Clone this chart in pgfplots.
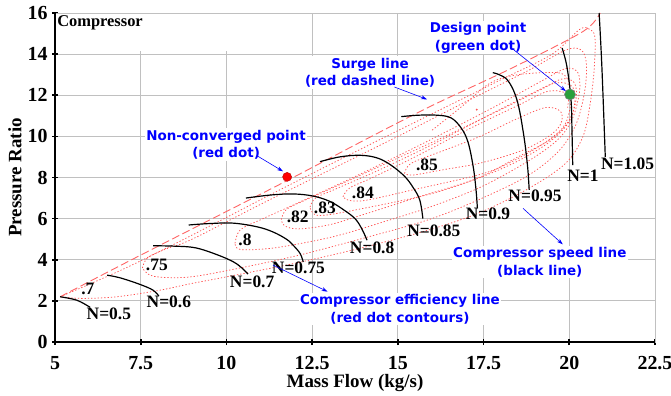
\documentclass[border=0pt]{standalone}
\usepackage{fontspec}
\setmainfont{Liberation Serif}
\newfontfamily\annfont{DejaVu Sans}
\usepackage{pgfplots}
\pgfplotsset{compat=1.18}
\usetikzlibrary{calc,arrows.meta}

\definecolor{effred}{RGB}{255,80,80}
\definecolor{surgered}{RGB}{255,100,100}
\definecolor{annblue}{RGB}{0,0,255}
\definecolor{gridgray}{RGB}{192,192,192}
\definecolor{designgreen}{RGB}{40,160,60}

\begin{document}
\begin{tikzpicture}
\begin{axis}[
  scale only axis, width=600bp, height=329bp,
  xmin=5, xmax=22.5, ymin=0, ymax=16,
  xtick={5,7.5,10,12.5,15,17.5,20,22.5},
  ytick={0,2,4,6,8,10,12,14,16},
  xticklabels={5,7.5,10,12.5,15,17.5,20,22.5},
  grid=major, grid style={gridgray, line width=0.9pt},
  axis line style={gridgray, line width=0.9pt},
  tick pos=left, tick align=center,
  major tick length=6bp,
  tick style={black, line width=1.6pt},
  /pgf/number format/assume math mode=true,
  tick label style={font=\fontsize{20}{20}\selectfont\bfseries},
  xticklabel style={yshift=-8bp},
  yticklabel style={xshift=-1bp},
  xlabel={Mass Flow (kg/s)},
  ylabel={Pressure Ratio},
  label style={font=\fontsize{19}{19}\selectfont\bfseries},
  xlabel style={yshift=2bp},
  ylabel style={yshift=-1bp},
  clip=false,
]
\coordinate (ll) at (rel axis cs:0,0);
\coordinate (ur) at (rel axis cs:1,1);
\fill[white] (axis cs:5.05,14.15) rectangle (axis cs:12.2,15.97);

% efficiency contours (red dotted)
\pgfplotsset{eff/.style={effred, line width=0.75pt, dash pattern=on 1.3pt off 2pt, smooth, tension=0.55}}
% .70
\addplot[eff] coordinates {(5.15,2.2) (7,3.55) (9,5.2) (11.5,7.35) (14,9.45) (16,11.1) (18,12.75) (19.5,14.0) (20.3,15.2) (20.6,15.2) (20.75,14.8) (20.72,13.15) (20.6,11.5) (20.4,10.0) (19.9,8.7) (18.85,7.5) (17.4,6.3) (15.9,5.45) (14,4.6) (12.06,3.85) (10.1,3.2) (9,2.85) (8,2.5) (6.8,2.2) (5.8,2.12) (5.15,2.2)};
% .75
\addplot[eff] coordinates {(7.55,3.6) (7.7,4.1) (8.2,4.5) (9,5.0) (11,6.7) (13,8.35) (15,10.0) (17,11.7) (18.8,13.2) (19.9,14.2) (20.35,14.2) (20.5,13.5) (20.45,12.2) (20.2,10.6) (19.7,9.3) (18.8,8.1) (17.4,6.95) (15.9,5.95) (14,5.05) (12.06,4.2) (10.1,3.5) (8.85,3.15) (7.86,3.2) (7.55,3.6)};
% .80
\addplot[eff] coordinates {(10.25,4.8) (10.4,5.45) (11,5.95) (12,6.7) (13.5,7.85) (15,9.05) (16.5,10.3) (18,11.6) (19.2,12.7) (19.9,13.3) (20.25,13.1) (20.3,12.2) (20.1,10.9) (19.7,9.9) (18.9,8.9) (17.5,7.6) (16,6.6) (14.5,5.8) (13.3,5.2) (12.35,4.85) (11.27,4.55) (10.4,4.5) (10.25,4.8)};
% .82
\addplot[eff] coordinates {(11.6,5.95) (11.75,6.45) (12.3,6.9) (13.5,7.8) (15,8.95) (16.5,10.1) (18,11.3) (19.2,12.3) (19.8,12.8) (20.15,12.6) (20.2,11.8) (20.0,10.8) (19.5,9.9) (18.5,9.0) (17.3,7.95) (15.5,7.0) (14,6.2) (13,5.7) (12.1,5.5) (11.7,5.65) (11.6,5.95)};
% .83
\addplot[eff] coordinates {(12.44,6.56) (12.6,7.0) (13.2,7.45) (14.5,8.4) (16,9.6) (17.5,10.9) (18.8,12.0) (19.6,12.6) (20.1,12.4) (20.15,11.5) (19.95,10.6) (19.4,9.7) (18.5,8.8) (17.4,8.0) (15.95,7.2) (14,6.5) (12.7,6.15) (12.44,6.56)};
% .84
\addplot[eff] coordinates {(13.4,7.06) (13.6,7.5) (14.2,7.95) (15.5,9.0) (17,10.3) (18.5,11.5) (19.4,12.2) (20.0,12.0) (20.0,11.2) (19.8,10.4) (19.2,9.6) (18.3,8.75) (17.4,8.15) (15.44,7.4) (14.1,6.9) (13.6,6.88) (13.4,7.06)};
% .85
\addplot[eff] coordinates {(15.2,8.2) (15.4,8.7) (16.4,9.35) (17.4,10.0) (18.4,10.8) (19.3,11.4) (19.75,11.2) (19.75,10.6) (19.4,10.0) (18.6,9.3) (17.4,8.7) (16.4,8.4) (15.44,8.12) (15.2,8.2)};
% inner curve near design point
\addplot[eff] coordinates {(16.0,10.3) (16.9,11.5) (17.7,12.6) (18.5,13.0) (19.64,13.1) (19.96,12.77) (20.0,12.1) (19.95,11.4)};
\addplot[only marks, mark=*, mark size=0.7pt, effred] coordinates {(17.3,11.3)};

% surge line
\addplot[surgered, line width=0.9pt, dash pattern=on 8pt off 3.5pt, smooth] coordinates {(5.15,2.2) (7,3.8) (9,5.5) (11.77,7.85) (14,9.8) (16,11.5) (18.3,13.3) (20.4,15.1) (20.9,16)};

% speed lines
\pgfplotsset{spd/.style={black, line width=1.2pt, smooth, tension=0.6}}
\addplot[spd] coordinates {(5.15,2.2) (5.64,2.03) (6.02,1.69)};
\addplot[spd] coordinates {(6.52,3.25) (6.9,3.12) (7.48,2.8) (7.86,2.52) (8.03,2.23)};
\addplot[spd] coordinates {(7.86,4.68) (8.5,4.66) (9.1,4.58) (9.72,4.25) (10.2,3.9) (10.45,3.6) (10.63,3.3)};
\addplot[spd] coordinates {(8.9,5.69) (9.5,5.76) (10.2,5.78) (10.9,5.6) (11.36,5.35) (11.75,5.0) (11.95,4.7) (12.15,4.3) (12.24,3.89)};
\addplot[spd] coordinates {(10.57,7.0) (11.3,7.15) (11.95,7.2) (12.52,7.1) (13.0,6.85) (13.4,6.45) (13.75,6.0) (13.95,5.5) (14.1,4.95)};
\addplot[spd] coordinates {(12.73,8.77) (13.3,9.0) (13.9,9.08) (14.4,8.95) (14.8,8.6) (15.2,8.05) (15.45,7.5) (15.64,6.9) (15.73,6.0)};
\addplot[spd] coordinates {(15.1,10.96) (15.6,11.03) (16.14,11.03) (16.55,10.9) (16.85,10.4) (17.05,9.7) (17.2,8.5) (17.28,7.4) (17.32,6.5)};
\addplot[spd] coordinates {(17.77,13.1) (18.18,12.77) (18.47,11.79) (18.66,10.18) (18.78,8.6) (18.83,7.4)};
\addplot[spd] coordinates {(19.79,14.3) (19.93,13.4) (20.05,11.79) (20.08,10.18) (20.1,8.6)};
\addplot[spd] coordinates {(20.87,16.0) (20.95,13.4) (21.05,9.0)};

% points
\addplot[only marks, mark=*, mark size=4.5pt, mark options={fill=red, draw=red!70!black, line width=0.4pt}] coordinates {(11.77,8.03)};
\addplot[only marks, mark=*, mark size=5.5pt, mark options={fill=designgreen, draw=gray, line width=0.6pt}] coordinates {(20.02,12.04)};

% labels
\tikzset{lab/.style={font=\fontsize{17.5}{17.5}\selectfont\bfseries, inner sep=0pt}}
\node[lab, anchor=west] at (axis cs:5.06,15.54) {\fontsize{16.5}{16.5}\selectfont Compressor};
\node[lab] at (axis cs:6.57,1.35) {N=0.5};
\node[lab] at (axis cs:8.32,1.93) {N=0.6};
\node[lab] at (axis cs:10.75,2.91) {N=0.7};
\node[lab] at (axis cs:12.1,3.6) {N=0.75};
\node[lab] at (axis cs:14.25,4.56) {N=0.8};
\node[lab] at (axis cs:16.05,5.4) {N=0.85};
\node[lab] at (axis cs:17.63,6.22) {N=0.9};
\node[lab] at (axis cs:19.0,7.1) {N=0.95};
\node[lab] at (axis cs:20.4,8.08) {N=1};
\node[lab] at (axis cs:21.7,8.67) {N=1.05};
\node[lab] at (axis cs:5.96,2.56) {.7};
\node[lab] at (axis cs:7.97,3.74) {.75};
\node[lab] at (axis cs:10.54,4.96) {.8};
\node[lab] at (axis cs:12.08,6.08) {.82};
\node[lab] at (axis cs:12.87,6.51) {.83};
\node[lab] at (axis cs:13.98,7.24) {.84};
\node[lab] at (axis cs:15.85,8.62) {.85};

% annotations
\tikzset{ann/.style={font=\annfont\bfseries\fontsize{13.5}{17.5}\selectfont, text=annblue, align=center, fill=white, inner sep=1.5pt},
         annarr/.style={annblue, line width=0.6pt, -{Stealth[length=6pt,width=4pt]}}}
\node[ann] at (axis cs:9.99,9.6) {Non-converged point\\(red dot)};
\draw[annarr] (axis cs:10.9,9.05) -- (axis cs:11.65,8.3);
\node[ann] at (axis cs:14.19,13.1) {Surge line\\(red dashed line)};
\draw[annarr] (axis cs:14.9,12.4) -- (axis cs:15.85,11.8);
\node[ann] at (axis cs:17.34,14.8) {Design point\\(green dot)};
\draw[annarr] (axis cs:18.35,14.25) -- (axis cs:19.9,12.2);
\node[ann] at (axis cs:19.14,3.88) {Compressor speed line\\(black line)};
\draw[annarr] (axis cs:18.65,6.5) -- (axis cs:19.81,4.75);
\node[ann] at (axis cs:15.06,1.6) {Compressor efficiency line\\(red dot contours)};
\draw[annarr] (axis cs:11.36,3.74) -- (axis cs:12.95,2.45);

% black left and bottom axis lines
\draw[black, line width=2.4pt] (rel axis cs:0,1) -- (rel axis cs:0,0) -- (rel axis cs:1,0);
\end{axis}
\pgfresetboundingbox
\path[use as bounding box] ($(ll)+(-55bp,-54bp)$) rectangle ($(ur)+(16bp,13bp)$);
\end{tikzpicture}
\end{document}
